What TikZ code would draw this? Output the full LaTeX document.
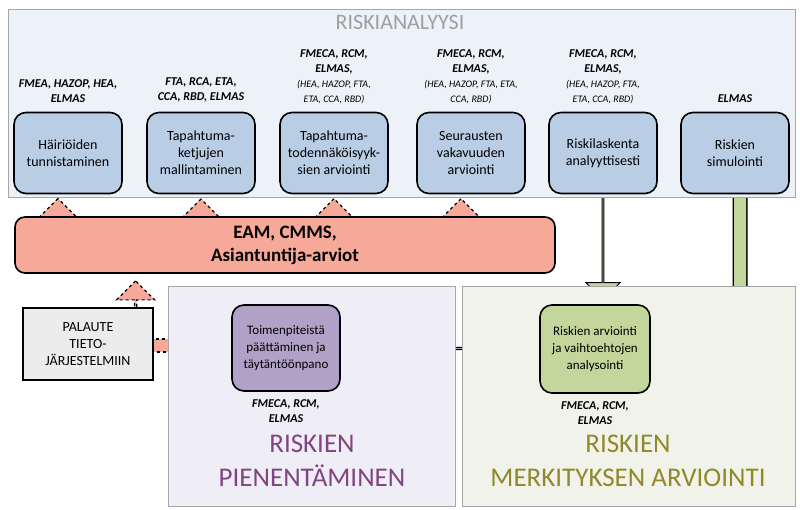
\documentclass[tikz,border=0pt]{standalone}
\usepackage{fontspec}
\setmainfont{Carlito}
\usepackage{tikz}
\usetikzlibrary{positioning,shapes.arrows,backgrounds,calc}

\definecolor{panelblue}{HTML}{EDF1F8}
\definecolor{boxblue}{HTML}{B9CDE5}
\definecolor{salmon}{HTML}{F6A998}
\definecolor{boxgreen}{HTML}{C3D69B}
\definecolor{boxviolet}{HTML}{B2A1C7}
\definecolor{panelviolet}{HTML}{EFEDF5}
\definecolor{panelgreen}{HTML}{F1F3EA}

\tikzset{
  panel/.style={draw=gray!70,line width=1pt},
  stage/.style={draw,line width=1.6pt,rounded corners=12pt,fill=boxblue,
    minimum width=108pt,minimum height=81pt,align=center,
    font=\fontsize{14}{17}\selectfont},
  tools/.style={align=center,font=\fontsize{12}{15}\selectfont\bfseries\itshape},
  ptitle/.style={align=center,font=\fontsize{27}{34}\selectfont},
  barrow/.style={single arrow,draw,line width=1pt,fill=boxblue,
    single arrow head extend=7pt,minimum width=31pt,minimum height=36pt,inner sep=0pt},
  dasharrow/.style={single arrow,draw,dashed,line width=1.2pt,fill=salmon,
    shape border rotate=90,single arrow head extend=14pt,minimum width=44pt,
    minimum height=20pt,inner sep=0pt},
}
\newcommand\sm[1]{{\fontsize{10}{13}\selectfont\mdseries #1}}

\begin{document}
\begin{tikzpicture}[x=1pt,y=-1pt]
	\useasboundingbox (0,0) rectangle (800,510);
	% panels
	\draw[panel,fill=panelblue] (8,10) rectangle (795,198);
	\draw[panel,fill=panelviolet] (168,287) rectangle (455,506);
	\draw[panel,fill=panelgreen] (462,287) rectangle (795,506);
	\node[ptitle,text=gray!75,font=\fontsize{22}{26}\selectfont] (tan) at (400,22) {RISKIANALYYSI};
	\node[ptitle,text=violet!45!gray] (tpi) at (312,461) {RISKIEN\\PIENENTÄMINEN};
	\node[ptitle,text=olive!70!gray] (tme) at (628,461) {RISKIEN\\MERKITYKSEN ARVIOINTI};

	% analysis steps
	\node[stage] (s1) at (68,153) {Häiriöiden\\tunnistaminen};
	\node[stage] (s2) at (201,153) {Tapahtuma-\\ketjujen\\mallintaminen};
	\node[stage] (s3) at (334,153) {Tapahtuma-\\todennäköisyyk-\\sien arviointi};
	\node[stage] (s4) at (471,153) {Seurausten\\vakavuuden\\arviointi};
	\node[stage] (s5) at (603,153) {Riskilaskenta\\analyyttisesti};
	\node[stage] (s6) at (735,153) {Riskien\\simulointi};

	\node[tools,above=6pt of s1] (t1) {FMEA, HAZOP, HEA,\\ELMAS};
	\node[tools,above=6pt of s2] (t2) {FTA, RCA, ETA,\\CCA, RBD, ELMAS};
	\node[tools,above=4pt of s3] (t3) {FMECA, RCM,\\ELMAS,\\\sm{(HEA, HAZOP, FTA,}\\\sm{ETA, CCA, RBD)}};
	\node[tools,above=4pt of s4] (t4) {FMECA, RCM,\\ELMAS,\\\sm{(HEA, HAZOP, FTA, ETA,}\\\sm{CCA, RBD)}};
	\node[tools,above=4pt of s5] (t5) {FMECA, RCM,\\ELMAS,\\\sm{(HEA, HAZOP, FTA,}\\\sm{ETA, CCA, RBD)}};
	\node[tools,above=6pt of s6] (t6) {ELMAS};

	% data sources
	\node[draw,line width=1.6pt,rounded corners=10pt,fill=salmon,minimum width=540pt,
	  minimum height=56pt,align=center,font=\fontsize{19}{23}\selectfont\bfseries]
	  (eam) at (285,245) {EAM, CMMS,\\Asiantuntija-arviot};
	\node[draw,line width=1.2pt,fill=gray!15,minimum width=130pt,minimum height=72pt,
	  align=center,font=\fontsize{14}{17}\selectfont] (pal) at (88,344) {PALAUTE\\TIETO-\\JÄRJESTELMIIN};

	% lower steps
	\node[stage,fill=boxviolet,minimum width=108pt,minimum height=86pt,
	  font=\fontsize{13}{17}\selectfont] (act) at (286,348) {Toimenpiteistä\\päättäminen ja\\täytäntöönpano};
	\node[stage,fill=boxgreen,minimum width=110pt,minimum height=88pt,
	  font=\fontsize{13}{17}\selectfont] (eva) at (595,349) {Riskien arviointi\\ja vaihtoehtojen\\analysointi};
	\node[tools,below=4pt of act] (ta) {FMECA, RCM,\\ELMAS};
	\node[tools,below=4pt of eva] (te) {FMECA, RCM,\\ELMAS};

	\begin{scope}[on background layer]
		\foreach \a/\b in {s1/s2,s2/s3,s3/s4,s4/s5,s5/s6}
			\node[barrow] at ($(\a.east)!0.5!(\b.west)$) {};
		% feedback from data sources
		\node[dasharrow,minimum width=70pt] (u1) at ($(s1.south)+(-10,15)$) {};
		\node[dasharrow,minimum width=36pt] (u2) at ($(s2.south)+(0,15)$) {};
		\node[dasharrow,minimum width=52pt] (u3) at ($(s3.south)+(0,15)$) {};
		\node[dasharrow,minimum width=52pt] (u4) at ($(s4.south)+(-10,15)$) {};
		\node[dasharrow,minimum width=38pt,minimum height=26pt,single arrow head extend=10pt]
		  (u5) at ($(pal.north east)+(-18,-13)$) {};
		% dashed feedback to information systems
		\draw[dashed,line width=1.2pt,fill=salmon] ($(act.west)+(0,-9)$) rectangle ($(pal.east)+(-10,8)$);
		% reduction arrow
		\node[single arrow,draw,line width=1pt,fill=boxviolet,shape border rotate=180,
		  single arrow head extend=11pt,minimum width=46pt,minimum height=200pt,inner sep=0pt]
		  (ra) at ($(eva.west)!0.5!(act.east)+(-3,0)$) {};
		% evaluation arrows
		\node[single arrow,draw,line width=1pt,fill=boxgreen,shape border rotate=270,
		  single arrow head extend=9pt,minimum width=34pt,minimum height=104pt,inner sep=0pt]
		  (ga) at ($(s5.south)+(0,53)$) {};
		\coordinate (gc) at ($(s6.south)+(5,0)$);
		\draw[line width=15pt] (gc) -- ++(0,115) arc (0:90:30) -- ($(eva.east)+(12,-15)$);
		\draw[line width=12pt,boxgreen] (gc) -- ++(0,115) arc (0:90:30) -- ($(eva.east)+(12,-15)$);
		\draw[line width=1pt,fill=boxgreen] ($(eva.east)+(-5,-15)$) -- ++(22,-17) -- ++(0,34) -- cycle;
	\end{scope}
\end{tikzpicture}
\end{document}
